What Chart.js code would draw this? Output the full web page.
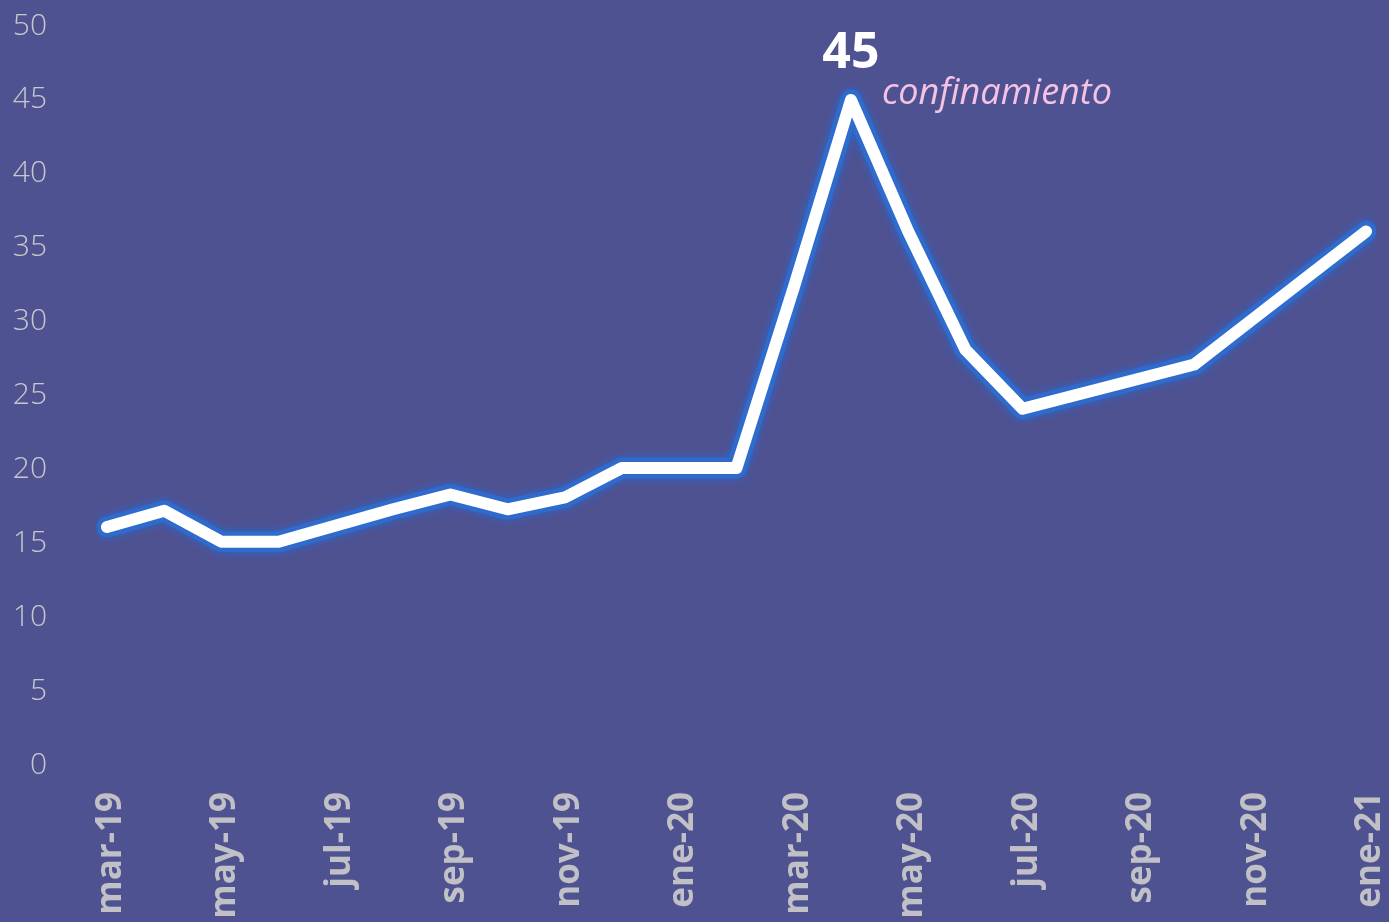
<!DOCTYPE html>
<html>
<head>
<meta charset="utf-8">
<script src="https://cdn.jsdelivr.net/npm/chart.js@4"></script>
<style>
  html, body { margin: 0; padding: 0; background: #4f5291; overflow: hidden; }
  #wrap { width: 1389px; height: 922px; position: relative; }
</style>
</head>
<body>
<div id="wrap"><canvas id="line-chart"></canvas></div>
<script>
// Datos (meses y valores)
const meses = ['mar-19', 'abr-19', 'may-19', 'jun-19', 'jul-19', 'ago-19', 'sep-19', 'oct-19',
    'nov-19', 'dic-19', 'ene-20', 'feb-20', 'mar-20', 'abr-20', 'may-20', 'jun-20', 'jul-20',
    'ago-20', 'sep-20', 'oct-20', 'nov-20', 'dic-20', 'ene-21'];
const valores = [16.1, 17.2, 15.1, 15.1, 16.2, 17.3, 18.3, 17.3, 18.1, 20.1, 20.1, 20.1,
    32.3, 45, 36.1, 28.1, 24.1, 25.1, 26.1, 27.1, 30.1, 33.1, 36.1];
const yTicks = [0, 5, 10, 15, 20, 25, 30, 35, 40, 45, 50];
const nota = 'confinamiento';
const mesNota = 'abr-20';

// Brillo azul solo para la línea de fondo (dataset 1)
const glowPlugin = {
    id: 'glow',
    beforeDatasetDraw(chart, args) {
        const ctx = chart.ctx;
        ctx.save();
        if (args.index === 1) {
            ctx.shadowColor = '#2a66cc';
            ctx.shadowBlur = 8;
        }
    },
    afterDatasetDraw(chart) {
        chart.ctx.restore();
    }
};

// Etiqueta del pico y texto "confinamiento"
const notaPlugin = {
    id: 'nota',
    afterDatasetsDraw(chart) {
        const idx = meses.indexOf(mesNota);
        const p = chart.getDatasetMeta(0).data[idx];
        const ctx = chart.ctx;
        ctx.save();
        ctx.fillStyle = '#ffffff';
        ctx.font = 'bold 50px "Open Sans"';
        ctx.textAlign = 'center';
        ctx.textBaseline = 'alphabetic';
        ctx.fillText(String(valores[idx]), p.x, p.y - 32);
        ctx.fillStyle = '#f3c2e4';
        ctx.font = 'italic 36px "Open Sans"';
        ctx.textAlign = 'left';
        ctx.fillText(nota, p.x + 31, p.y + 4);
        ctx.restore();
    }
};

new Chart(document.getElementById('line-chart'), {
    type: 'line',
    data: {
        labels: meses,
        datasets: [{
            data: valores,
            borderColor: '#ffffff',
            borderWidth: 12,
            borderCapStyle: 'round',
            borderJoinStyle: 'round',
            pointRadius: 0,
            tension: 0,
            fill: false
        }, {
            data: valores,
            borderColor: '#2e6bcc',
            borderWidth: 21,
            borderCapStyle: 'round',
            borderJoinStyle: 'round',
            pointRadius: 0,
            tension: 0,
            fill: false
        }]
    },
    options: {
        responsive: true,
        maintainAspectRatio: false,
        animation: false,
        layout: { padding: { top: 26, right: 23, left: 0, bottom: 0 } },
        plugins: {
            legend: { display: false },
            tooltip: { enabled: false }
        },
        scales: {
            x: {
                grid: { display: false, drawTicks: false },
                border: { display: false },
                afterFit(scale) {
                    scale.height = 157;
                    scale.paddingLeft = 0;
                    scale.paddingRight = 0;
                },
                ticks: {
                    autoSkip: false,
                    minRotation: 90,
                    maxRotation: 90,
                    padding: 27,
                    labelOffset: 4,
                    color: '#c0c0c6',
                    font: { family: '"Open Sans"', size: 35, weight: 'bold' },
                    callback(val, i) { return i % 2 === 0 ? meses[i] : ''; }
                }
            },
            y: {
                min: 0,
                max: 50,
                grid: { display: false, drawTicks: false },
                border: { display: false },
                afterFit(scale) {
                    scale.width = 107;
                    scale.paddingTop = 0;
                    scale.paddingBottom = 0;
                },
                afterBuildTicks(scale) { scale.ticks = yTicks.map(v => ({ value: v })); },
                ticks: {
                    padding: 60,
                    color: '#c8c8cc',
                    font: { family: '"Open Sans"', size: 30, weight: 300 }
                }
            }
        }
    },
    plugins: [glowPlugin, notaPlugin]
});
</script>
</body>
</html>
